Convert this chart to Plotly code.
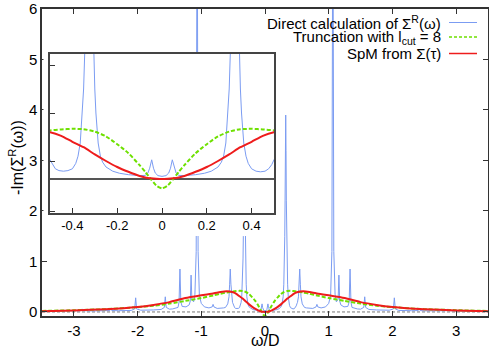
import plotly.graph_objects as go

# ---------------- data ----------------
omega_grid = [-3.5, -3.0, -2.5, -2.0, -1.75, -1.5, -1.25, -1.0, -0.8, -0.7, -0.6, -0.5,
              -0.45, -0.4, -0.35, -0.3, -0.25, -0.2, -0.15, -0.1, -0.075, -0.05, -0.025, 0.0,
              0.025, 0.05, 0.075, 0.1, 0.15, 0.2, 0.25, 0.3, 0.35, 0.4, 0.45,
              0.5, 0.6, 0.7, 0.8, 1.0, 1.25, 1.5, 1.75, 2.0, 2.5, 3.0, 3.5]

truncation_values = [0.02, 0.035, 0.055, 0.095, 0.125, 0.165, 0.22, 0.275, 0.33, 0.36, 0.385, 0.405,
                     0.413, 0.418, 0.415, 0.395, 0.355, 0.29, 0.215, 0.115, 0.06, 0.0, -0.055, -0.078,
                     -0.055, 0.0, 0.06, 0.115, 0.215, 0.29, 0.355, 0.395, 0.415, 0.418, 0.413,
                     0.405, 0.385, 0.36, 0.33, 0.275, 0.22, 0.165, 0.125, 0.095, 0.055, 0.035, 0.02]

spm_values = [0.015, 0.03, 0.055, 0.1, 0.14, 0.195, 0.275, 0.33, 0.37, 0.395, 0.41, 0.39,
              0.36, 0.31, 0.265, 0.205, 0.15, 0.1, 0.06, 0.025, 0.013, 0.006, 0.002, 0.0,
              0.002, 0.006, 0.013, 0.025, 0.06, 0.1, 0.15, 0.205, 0.265, 0.31, 0.36,
              0.39, 0.41, 0.395, 0.37, 0.33, 0.275, 0.195, 0.14, 0.1, 0.055, 0.03, 0.015]

direct_omega = [
    -3.5, -3.0, -2.89, -2.87, -2.85, -2.7, -2.5, -2.435, -2.42, -2.405, -2.3, -2.1,
    -2.045, -2.03, -2.015, -1.95, -1.75, -1.63, -1.58, -1.565, -1.55, -1.5, -1.45,
    -1.365, -1.349, -1.335, -1.321, -1.3, -1.24, -1.19, -1.172, -1.16, -1.148, -1.12,
    -1.1, -1.08, -1.065, -1.05, -1.03, -1.0, -0.95, -0.88, -0.829, -0.815, -0.801,
    -0.75, -0.65, -0.62, -0.585, -0.565, -0.555, -0.545, -0.535, -0.525, -0.51,
    -0.5, -0.49, -0.476, -0.46, -0.44, -0.42, -0.4, -0.385, -0.375, -0.365, -0.355,
    -0.35, -0.345, -0.34, -0.335, -0.33, -0.325, -0.32, -0.315, -0.31, -0.305, -0.3,
    -0.295, -0.285, -0.275, -0.265, -0.25, -0.22, -0.19, -0.15, -0.1, -0.075, -0.063,
    -0.055, -0.046, -0.038, -0.03, -0.018, 0.0,
    0.018, 0.03, 0.038, 0.046, 0.055, 0.063, 0.075, 0.1, 0.15, 0.19, 0.22, 0.25,
    0.265, 0.275, 0.285, 0.295, 0.3, 0.305, 0.31, 0.315, 0.32, 0.325, 0.33, 0.335,
    0.34, 0.345, 0.35, 0.355, 0.365, 0.375, 0.385, 0.4, 0.42, 0.44, 0.46, 0.476,
    0.49, 0.5, 0.51, 0.525, 0.535, 0.545, 0.555, 0.565, 0.585, 0.62, 0.65, 0.75,
    0.801, 0.815, 0.829, 0.88, 0.95, 1.0, 1.03, 1.05, 1.065, 1.08, 1.1, 1.12, 1.148,
    1.16, 1.172, 1.19, 1.24, 1.3, 1.321, 1.335, 1.349, 1.365, 1.45, 1.5, 1.55, 1.565,
    1.58, 1.63, 1.75, 1.95, 2.015, 2.03, 2.045, 2.1, 2.3, 2.405, 2.42, 2.435, 2.5,
    2.7, 2.85, 2.87, 2.89, 3.0, 3.5]

direct_values = [
    0.015, 0.02, 0.025, 0.06, 0.025, 0.02, 0.022, 0.028, 0.07, 0.028, 0.025, 0.03,
    0.06, 0.28, 0.06, 0.035, 0.04, 0.05, 0.09, 0.30, 0.09, 0.055, 0.06,
    0.09, 0.2, 0.85, 0.2, 0.11, 0.1, 0.14, 0.22, 0.73, 0.25, 0.2,
    0.35, 1.2, 9.0, 1.2, 0.33, 0.17, 0.1, 0.08, 0.1, 0.15, 0.1,
    0.07, 0.08, 0.09, 0.16, 0.3, 0.55, 0.85, 0.55, 0.3, 0.19,
    0.16, 0.12, 0.085, 0.07, 0.065, 0.07, 0.085, 0.13, 0.19, 0.3, 0.55,
    0.75, 1.05, 1.5, 2.2, 3.2, 3.9, 3.2, 2.2, 1.5, 1.05, 0.75,
    0.55, 0.3, 0.19, 0.14, 0.1, 0.065, 0.048, 0.036, 0.028, 0.03, 0.05,
    0.09, 0.16, 0.09, 0.05, 0.028, 0.022,
    0.028, 0.05, 0.09, 0.16, 0.09, 0.05, 0.03, 0.028, 0.036, 0.048, 0.065, 0.1,
    0.14, 0.19, 0.3, 0.55, 0.75, 1.05, 1.5, 2.2, 3.2, 3.9, 3.2, 2.2,
    1.5, 1.05, 0.75, 0.55, 0.3, 0.19, 0.13, 0.085, 0.065, 0.06, 0.065, 0.085,
    0.12, 0.16, 0.19, 0.3, 0.55, 0.85, 0.55, 0.3, 0.16, 0.09, 0.08, 0.07,
    0.1, 0.15, 0.1, 0.08, 0.1, 0.17, 0.33, 1.2, 9.0, 1.2, 0.35, 0.2, 0.25,
    0.73, 0.22, 0.14, 0.1, 0.11, 0.2, 0.85, 0.2, 0.09, 0.06, 0.055, 0.09, 0.30,
    0.09, 0.05, 0.04, 0.035, 0.06, 0.28, 0.06, 0.03, 0.025, 0.028, 0.07, 0.028, 0.022,
    0.02, 0.025, 0.06, 0.025, 0.02, 0.015]

main_xticks = [-3, -2, -1, 0, 1, 2, 3]
main_xtick_text = ["-3", "-2", "-1", "0", "1", "2", "3"]
main_yticks = [0, 1, 2, 3, 4, 5, 6]
inset_xticks = [-0.4, -0.2, 0, 0.2, 0.4]
inset_xtick_text = ["-0.4", "-0.2", "0", "0.2", "0.4"]
inset_yticks = [-0.267, 0.15, 0.55, 0.95]

series_names = ["Direct calculation of \u03a3<sup>R</sup>(\u03c9)",
                "Truncation with l<sub>cut</sub> = 8",
                "SpM from \u03a3(\u03c4)"]

# ---------------- styles ----------------
BLUE = "#7b9cf2"
GREEN = "#6ee000"
RED = "#ee1c1c"
GREEN_DASH = "4px,2px"
FONT = "Liberation Sans, Arial, sans-serif"
W, H = 489, 356
ML, MR, MT, MB = 42, 1, 9, 40
PW, PH = W - ML - MR, H - MT - MB


def px_x(p):
    return (p - ML) / PW


def px_y(p):
    return (H - MB - p) / PH


fig = go.Figure()

# main plot
fig.add_trace(go.Scatter(x=direct_omega, y=direct_values, mode="lines",
                         line=dict(color=BLUE, width=1), xaxis="x", yaxis="y",
                         showlegend=False, hoverinfo="skip"))
fig.add_trace(go.Scatter(x=omega_grid, y=truncation_values, mode="lines",
                         line=dict(color=GREEN, width=2, dash=GREEN_DASH, shape="spline", smoothing=0.6),
                         xaxis="x", yaxis="y", showlegend=False, hoverinfo="skip"))
fig.add_trace(go.Scatter(x=omega_grid, y=spm_values, mode="lines",
                         line=dict(color=RED, width=2, shape="spline", smoothing=0.6),
                         xaxis="x", yaxis="y", showlegend=False, hoverinfo="skip"))

# white mask subplot behind the inset (covers inset + its tick labels)
fig.add_trace(go.Scatter(x=[None], y=[None], mode="lines", xaxis="x2", yaxis="y2",
                         showlegend=False, hoverinfo="skip"))

# inset
fig.add_trace(go.Scatter(x=direct_omega, y=direct_values, mode="lines",
                         line=dict(color=BLUE, width=1), xaxis="x3", yaxis="y3",
                         showlegend=False, hoverinfo="skip"))
fig.add_trace(go.Scatter(x=omega_grid, y=truncation_values, mode="lines",
                         line=dict(color=GREEN, width=2, dash=GREEN_DASH, shape="spline", smoothing=0.6),
                         xaxis="x3", yaxis="y3", showlegend=False, hoverinfo="skip"))
fig.add_trace(go.Scatter(x=omega_grid, y=spm_values, mode="lines",
                         line=dict(color=RED, width=2, shape="spline", smoothing=0.6),
                         xaxis="x3", yaxis="y3", showlegend=False, hoverinfo="skip"))

axis_common = dict(showgrid=False, zeroline=False, showline=True, linecolor="#333333",
                   linewidth=1.5, ticks="inside", ticklen=5, tickwidth=1, tickcolor="#333333",
                   automargin=False,
                   tickfont=dict(family=FONT, size=15, color="black"))

fig.update_layout(
    width=W, height=H,
    margin=dict(l=ML, r=MR, t=MT, b=MB, pad=0, autoexpand=False),
    paper_bgcolor="white", plot_bgcolor="white",
    showlegend=False,
    xaxis=dict(axis_common, domain=[0, 1], range=[-3.5, 3.5], mirror="ticks",
               tickvals=main_xticks, ticktext=main_xtick_text, anchor="y"),
    yaxis=dict(axis_common, domain=[0, 1], range=[-0.08, 6.0], mirror="ticks",
               tickvals=main_yticks, anchor="x"),
    xaxis2=dict(domain=[px_x(43.5), px_x(280)], range=[0, 1], visible=False,
                automargin=False, anchor="y2"),
    yaxis2=dict(domain=[px_y(236), px_y(54)], range=[0, 1], visible=False,
                automargin=False, anchor="x2"),
    xaxis3=dict(axis_common, domain=[px_x(50), px_x(274)], range=[-0.5, 0.5], mirror=True,
                linecolor="#444444", tickvals=inset_xticks, ticktext=inset_xtick_text,
                tickfont=dict(family=FONT, size=13, color="black"), anchor="y3"),
    yaxis3=dict(axis_common, domain=[px_y(213), px_y(54)], range=[-0.2833, 1.0417], mirror=True,
                linecolor="#444444", tickvals=inset_yticks, showticklabels=False,
                zeroline=True, zerolinecolor="#555555", zerolinewidth=1.5, anchor="x3"),
)

# dashed zero line of the main plot
fig.add_shape(type="line", xref="x domain", x0=0, x1=1, yref="y", y0=0, y1=0,
              line=dict(color="#777777", width=1, dash="3px,2px"), layer="below")

# axis titles
fig.add_annotation(text="\u03c9/D", xref="paper", yref="paper", x=px_x(265), y=px_y(340),
                   xanchor="center", yanchor="middle", showarrow=False,
                   font=dict(family=FONT, size=16, color="black"))
fig.add_annotation(text="-Im(\u03a3<sup>R</sup>(\u03c9))", xref="paper", yref="paper",
                   x=px_x(16), y=px_y(158), textangle=-90, xanchor="center", yanchor="middle",
                   showarrow=False, font=dict(family=FONT, size=16, color="black"))

# gnuplot-style key: text right aligned, line sample on the right
key_rows = [22.5, 37, 53.5]
key_colors = [BLUE, GREEN, RED]
key_dash = ["solid", "3px,2px", "solid"]
key_width = [1, 1.5, 1.5]
for name, row, col, dsh, wd in zip(series_names, key_rows, key_colors, key_dash, key_width):
    fig.add_annotation(text=name, xref="paper", yref="paper", x=px_x(443), y=px_y(row),
                       xanchor="right", yanchor="middle", showarrow=False,
                       font=dict(family=FONT, size=15, color="black"))
    fig.add_shape(type="line", xref="paper", yref="paper", x0=px_x(449), x1=px_x(477),
                  y0=px_y(row), y1=px_y(row), line=dict(color=col, width=wd, dash=dsh),
                  layer="above")

fig.write_html("out.html",
               config={"displayModeBar": False},
               post_script="document.body.style.margin='0';document.body.style.padding='0';"
                           "document.body.style.overflow='hidden';")
